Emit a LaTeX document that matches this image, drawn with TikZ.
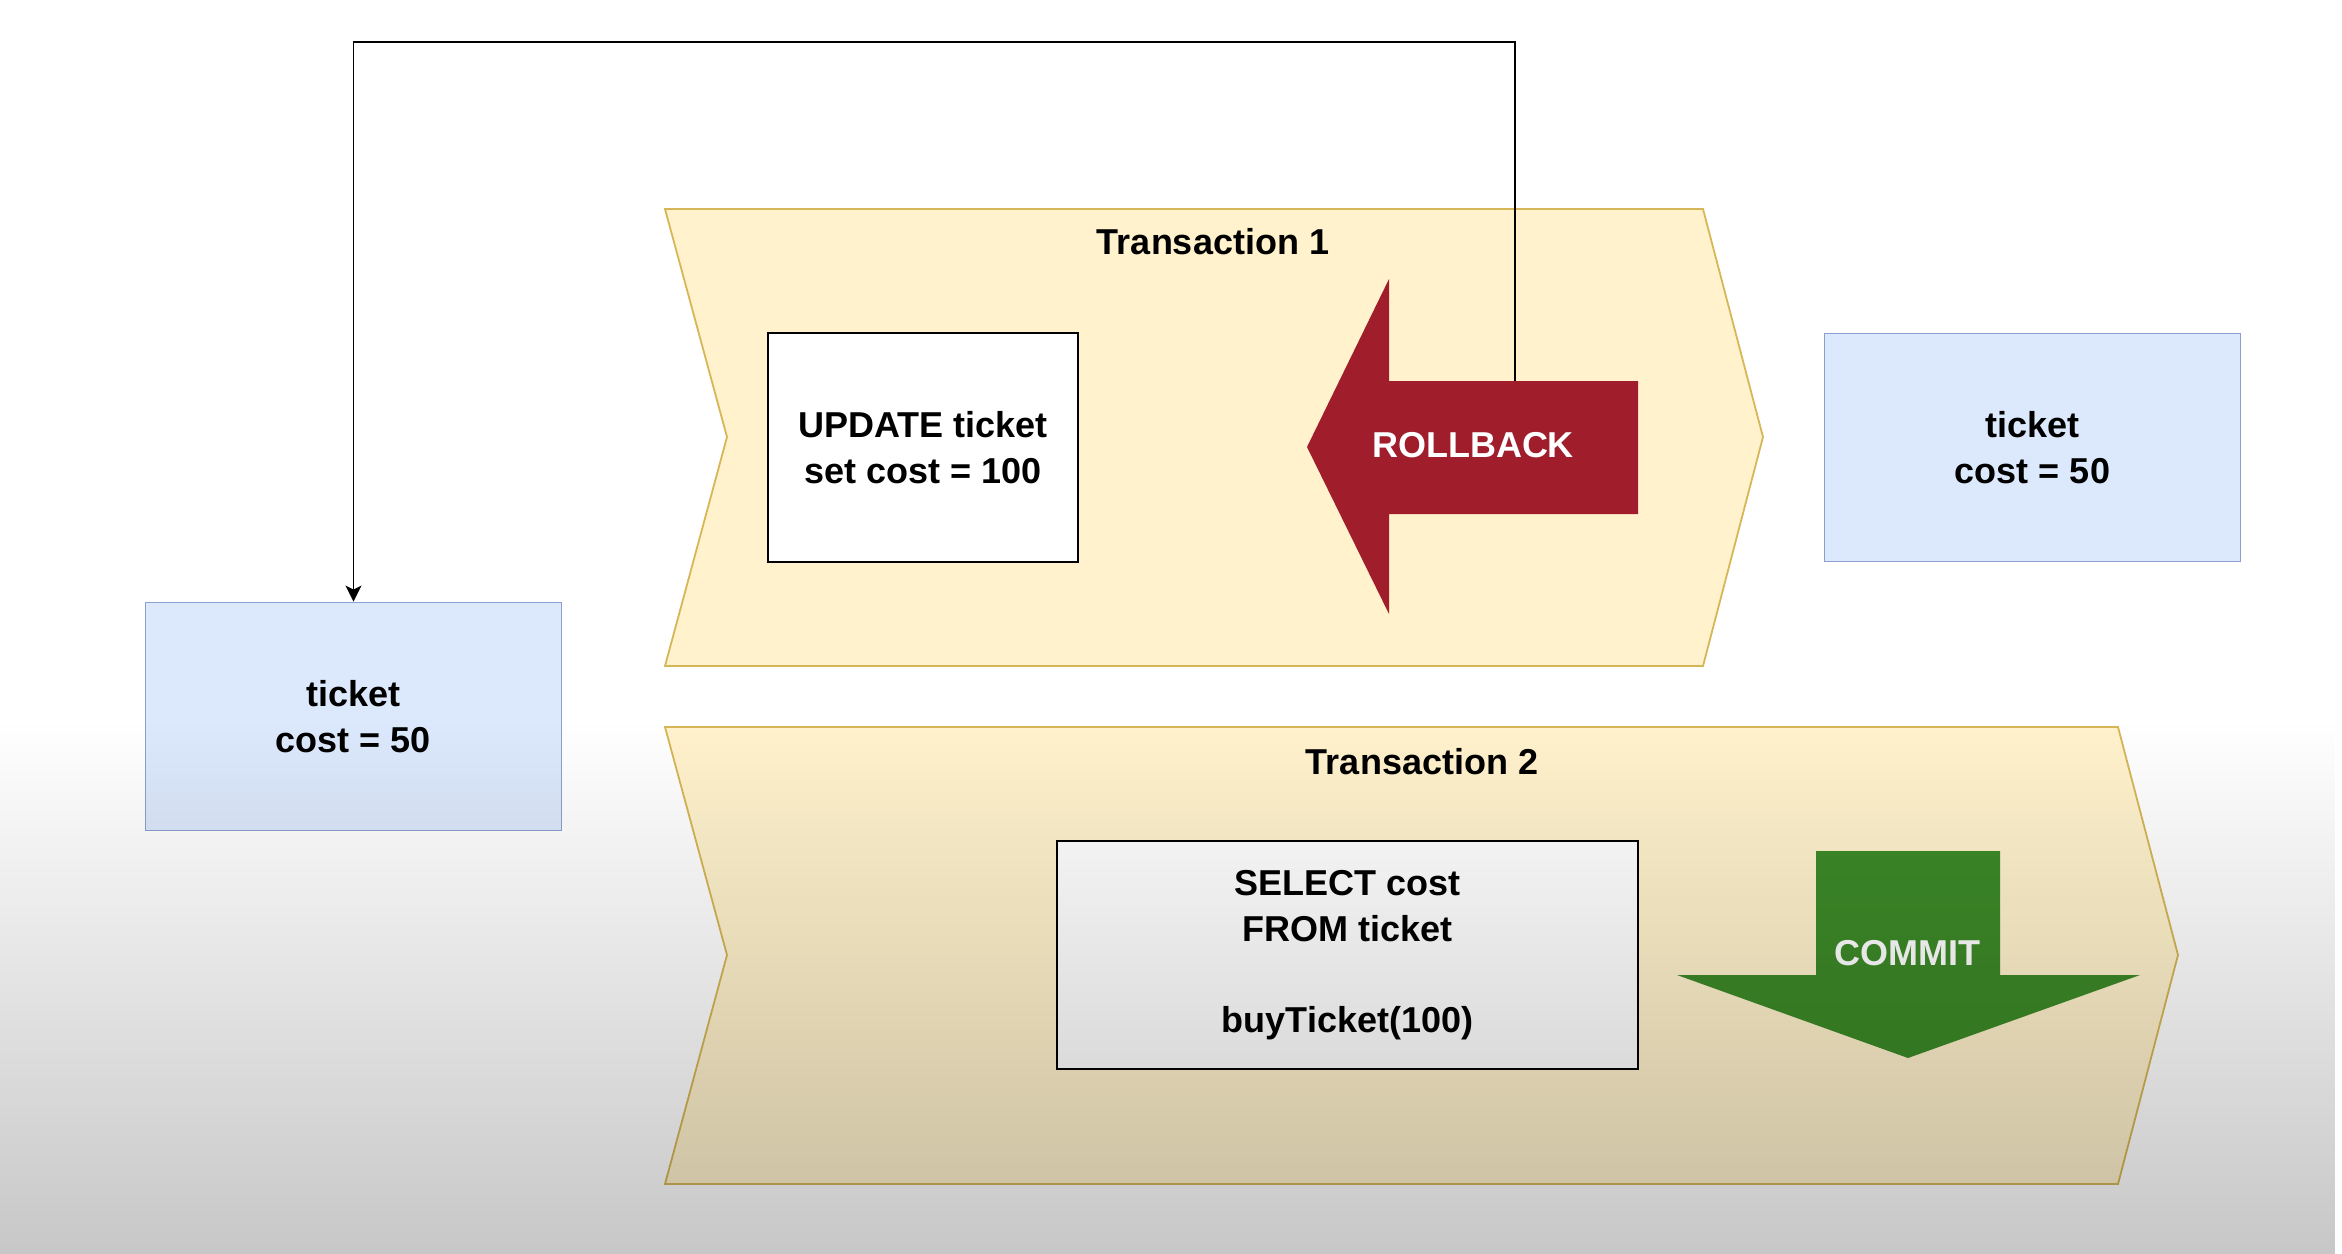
\documentclass[tikz,border=0pt]{standalone}
\usepackage{fontspec}
\setmainfont{Liberation Sans}
\usetikzlibrary{arrows.meta,fadings}
\definecolor{txFill}{HTML}{FFF2CC}
\definecolor{txLine}{HTML}{D6B656}
\definecolor{tableFill}{HTML}{DCE8FB}
\definecolor{tableLine}{HTML}{8C9FCF}
\definecolor{rollbackRed}{HTML}{A01E2C}
\definecolor{commitGreen}{HTML}{3D8A28}
\newcommand{\labelFont}{\bfseries\fontsize{18}{22.75}\selectfont}

\begin{document}
\begin{tikzpicture}[x=0.5pt,y=-0.5pt,
    tablebox/.style={draw=tableLine,fill=tableFill,line width=0.9pt,minimum width=208pt,minimum height=114pt,align=center,font=\labelFont},
    querybox/.style={draw=black,fill=white,line width=0.9pt,align=center,font=\labelFont},
    txband/.style={draw=txLine,fill=txFill,line width=0.9pt},
    txtitle/.style={font=\labelFont},
    arrowtext/.style={text=white,font=\labelFont}]

\useasboundingbox (0,0) rectangle (2342,1254);

% transaction bands
\draw[txband] (665,209) -- (1703,209) -- (1763,437) -- (1703,666) -- (665,666) -- (727,437) -- cycle;
\node[txtitle] (tx1) at (1213,242) {Transaction 1};
\draw[txband] (665,727) -- (2118,727) -- (2178,955) -- (2118,1184) -- (665,1184) -- (727,955) -- cycle;
\node[txtitle] (tx2) at (1422,762) {Transaction 2};

% tables
\node[tablebox] (ticketOld) at (353.5,716.5) {ticket\\cost = 50};
\node[tablebox] (ticketNew) at (2032.5,447.5) {ticket\\cost = 50};

% queries
\node[querybox,minimum width=155pt,minimum height=114.5pt] (update) at (923,447.5) {UPDATE ticket\\set cost = 100};
\node[querybox,minimum width=290.5pt,minimum height=114pt] (select) at (1347.5,955) {SELECT cost\\FROM ticket\\[22.75pt]buyTicket(100)};

% rollback / commit
\fill[rollbackRed] (1307,447) -- (1389,279) -- (1389,381) -- (1638,381) -- (1638,514) -- (1389,514) -- (1389,614) -- cycle;
\node[arrowtext] (rollback) at (1473,445) {ROLLBACK};
\fill[commitGreen] (1816,851) -- (2000,851) -- (2000,975) -- (2140,975) -- (1908,1058) -- (1677,975) -- (1816,975) -- cycle;
\node[arrowtext] (commit) at (1907,953) {COMMIT};

\coordinate (rbTop) at (1515,381);
\coordinate (loopTop) at (1515,42);
\draw[line width=0.9pt,-{Stealth[length=8pt,width=8pt,inset=2pt]}] (rbTop) -- (loopTop) -| (ticketOld);

\fill[black,opacity=0.22,path fading=north] (0,720) rectangle (2342,1254);
\end{tikzpicture}
\end{document}
